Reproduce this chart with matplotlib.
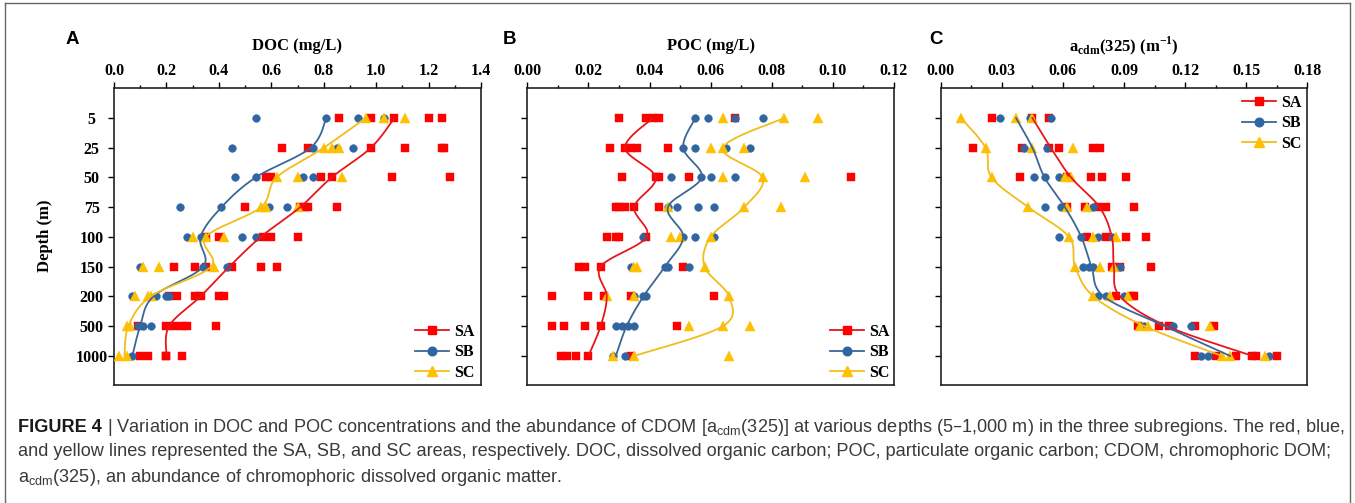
import numpy as np
import matplotlib
matplotlib.use('Agg')
import matplotlib.pyplot as plt
from matplotlib.lines import Line2D
from matplotlib.ticker import MultipleLocator
from matplotlib import font_manager

# ---------------- data ----------------
depths = ['5', '25', '50', '75', '100', '150', '200', '500', '1000']
regions = ['SA', 'SB', 'SC']

doc_sa = [[0.86, 0.98, 1.07, 1.20, 1.25], [0.64, 0.74, 0.98, 1.11, 1.25, 1.26],
          [0.58, 0.60, 0.79, 0.83, 1.06, 1.28], [0.50, 0.71, 0.73, 0.74, 0.85],
          [0.35, 0.40, 0.57, 0.60, 0.70], [0.23, 0.31, 0.35, 0.45, 0.56, 0.62],
          [0.21, 0.24, 0.31, 0.33, 0.40, 0.42], [0.09, 0.20, 0.23, 0.26, 0.28, 0.39],
          [0.10, 0.13, 0.20, 0.20, 0.26]]
doc_sa_line = [1.07, 0.98, 0.83, 0.71, 0.56, 0.44, 0.33, 0.21, 0.20]
doc_sb = [[0.54, 0.81, 0.93, 1.03], [0.45, 0.76, 0.85, 0.91], [0.46, 0.54, 0.72, 0.76],
          [0.25, 0.41, 0.59, 0.66], [0.28, 0.33, 0.49, 0.54], [0.10, 0.34, 0.43],
          [0.07, 0.16, 0.20, 0.21], [0.09, 0.11, 0.14], [0.07]]
doc_sb_line = [0.81, 0.75, 0.54, 0.41, 0.33, 0.34, 0.15, 0.10, 0.07]
doc_sc = [[0.96, 1.03, 1.11], [0.80, 0.83, 0.86], [0.62, 0.70, 0.87], [0.56, 0.58, 0.70],
          [0.30, 0.35, 0.42], [0.11, 0.17, 0.38], [0.08, 0.13, 0.14], [0.05, 0.06],
          [0.02, 0.05]]
doc_sc_line = [0.96, 0.80, 0.62, 0.56, 0.35, 0.37, 0.14, 0.055, 0.04]

poc_sa = [[0.030, 0.039, 0.041, 0.043, 0.068], [0.027, 0.032, 0.034, 0.036, 0.046],
          [0.031, 0.042, 0.043, 0.053, 0.106], [0.029, 0.030, 0.032, 0.035, 0.043],
          [0.026, 0.029, 0.030, 0.039], [0.017, 0.019, 0.024, 0.051],
          [0.008, 0.020, 0.025, 0.034, 0.061], [0.008, 0.012, 0.019, 0.024, 0.049],
          [0.011, 0.013, 0.016, 0.020, 0.034]]
poc_sa_line = [0.041, 0.032, 0.042, 0.035, 0.039, 0.024, 0.026, 0.024, 0.020]
poc_sb = [[0.055, 0.059, 0.068, 0.077], [0.051, 0.055, 0.065, 0.073],
          [0.047, 0.057, 0.060, 0.068], [0.046, 0.049, 0.056, 0.061],
          [0.038, 0.051, 0.055, 0.061], [0.034, 0.045, 0.046, 0.053],
          [0.035, 0.038, 0.039], [0.029, 0.031, 0.033, 0.035], [0.028, 0.032]]
poc_sb_line = [0.055, 0.051, 0.057, 0.046, 0.051, 0.045, 0.038, 0.0325, 0.029]
poc_sc = [[0.064, 0.084, 0.095], [0.060, 0.064, 0.071], [0.064, 0.077, 0.091],
          [0.046, 0.071, 0.083], [0.047, 0.050, 0.060], [0.035, 0.036, 0.058],
          [0.026, 0.035, 0.066], [0.053, 0.064, 0.073], [0.028, 0.035, 0.066]]
poc_sc_line = [0.084, 0.064, 0.077, 0.071, 0.060, 0.058, 0.066, 0.064, 0.035]

cdm_sa = [[0.025, 0.045, 0.053], [0.016, 0.040, 0.053, 0.058, 0.075, 0.078],
          [0.039, 0.062, 0.074, 0.079, 0.091], [0.062, 0.071, 0.077, 0.081, 0.095],
          [0.072, 0.081, 0.091, 0.101], [0.084, 0.088, 0.103], [0.086, 0.094, 0.095],
          [0.097, 0.107, 0.112, 0.125, 0.134], [0.125, 0.135, 0.145, 0.153, 0.155, 0.165]]
cdm_sa_line = [0.045, 0.054, 0.064, 0.078, 0.084, 0.085, 0.088, 0.111, 0.153]
cdm_sb = [[0.029, 0.044, 0.054], [0.041, 0.052], [0.046, 0.051, 0.058],
          [0.051, 0.059, 0.075], [0.058, 0.069, 0.077, 0.084], [0.070, 0.073, 0.075, 0.088],
          [0.077, 0.081, 0.090], [0.100, 0.114, 0.123], [0.128, 0.131, 0.161]]
cdm_sb_line = [0.037, 0.045, 0.051, 0.061, 0.069, 0.074, 0.080, 0.110, 0.142]
cdm_sc = [[0.010, 0.037, 0.045], [0.022, 0.045, 0.065], [0.025, 0.061, 0.064],
          [0.043, 0.062, 0.072], [0.063, 0.075, 0.086], [0.066, 0.078, 0.085],
          [0.075, 0.083, 0.092], [0.098, 0.102, 0.132], [0.138, 0.142, 0.159]]
cdm_sc_line = [0.010, 0.022, 0.025, 0.043, 0.063, 0.066, 0.075, 0.100, 0.138]

panel_letters = ['A', 'B', 'C']
x_titles = ['DOC (mg/L)', 'POC (mg/L)',
            r'a$_{\mathregular{cdm}}$(325) (m$^{\mathregular{-1}}$)']
x_limits = [(0, 1.4), (0, 0.12), (0, 0.18)]
x_major = [0.2, 0.02, 0.03]
x_fmt = ['{:.1f}', '{:.2f}', '{:.2f}']

caption_head = 'FIGURE 4'
caption_lines = [
    r' | Variation in DOC and POC concentrations and the abundance of CDOM '
    r'[a$_{\mathregular{cdm}}$(325)] at various depths (5–1,000 m) in the three subregions. The red, blue,',
    'and yellow lines represented the SA, SB, and SC areas, respectively. DOC, dissolved organic carbon; '
    'POC, particulate organic carbon; CDOM, chromophoric DOM;',
    r'a$_{\mathregular{cdm}}$(325), an abundance of chromophoric dissolved organic matter.',
]

# ---------------- style ----------------
marker_col = {'SA': '#FF0000', 'SB': '#2F65A0', 'SC': '#FFC000'}
line_col = {'SA': '#E8161B', 'SB': '#3A6796', 'SC': '#F2BD1A'}
markers = {'SA': 's', 'SB': 'o', 'SC': '^'}
msize = {'SA': 5.2, 'SB': 5.6, 'SC': 6.6}
serif = 'Liberation Serif'
avail = {f.name for f in font_manager.fontManager.ttflist}
cap_font = 'Liberation Sans Narrow' if 'Liberation Sans Narrow' in avail else 'Liberation Sans'

W, H = 1355, 503
fig = plt.figure(figsize=(W / 100, H / 100), dpi=100)


def px_axes(left, top, right, bottom):
    return fig.add_axes([left / W, 1 - bottom / H, (right - left) / W, (bottom - top) / H])


def smooth(xs, ys, n=24):
    pts = np.column_stack([xs, ys]).astype(float)
    m = len(pts)
    out = [pts[0]]
    t = np.linspace(0, 1, n)[1:, None]
    for i in range(m - 1):
        p0 = pts[i - 1] if i > 0 else pts[i]
        p1, p2 = pts[i], pts[i + 1]
        p3 = pts[i + 2] if i + 2 < m else pts[i + 1]
        c1 = p1 + (p2 - p0) / 6.0
        c2 = p2 - (p3 - p1) / 6.0
        seg = (1 - t) ** 3 * p1 + 3 * (1 - t) ** 2 * t * c1 + 3 * (1 - t) * t ** 2 * c2 + t ** 3 * p2
        out.extend(seg)
    out = np.array(out)
    return out[:, 0], out[:, 1]


panels = [
    {'SA': (doc_sa, doc_sa_line), 'SB': (doc_sb, doc_sb_line), 'SC': (doc_sc, doc_sc_line)},
    {'SA': (poc_sa, poc_sa_line), 'SB': (poc_sb, poc_sb_line), 'SC': (poc_sc, poc_sc_line)},
    {'SA': (cdm_sa, cdm_sa_line), 'SB': (cdm_sb, cdm_sb_line), 'SC': (cdm_sc, cdm_sc_line)},
]
axes_px = [(114, 88.3, 481.0, 385), (527.3, 88.3, 894.0, 385), (940.7, 88.3, 1307.4, 385)]
letter_px = [(72, 39), (509, 39), (936, 39)]
legend_px = [(415, 324), (830, 324), (1242, 95)]

ypos = np.arange(len(depths))
for k in range(3):
    ax = px_axes(*axes_px[k])
    data = panels[k]
    for r in regions:
        pts, line = data[r]
        xs = [v for row in pts for v in row]
        ys = [i for i, row in enumerate(pts) for _ in row]
        ax.plot(xs, ys, linestyle='none', marker=markers[r], markersize=msize[r],
                markerfacecolor=marker_col[r], markeredgecolor=marker_col[r],
                markeredgewidth=0.3, zorder=3)
    for r in regions:
        pts, line = data[r]
        sx, sy = smooth(line, ypos)
        ax.plot(sx, sy, color=line_col[r], lw=1.3, zorder=4)

    ax.set_xlim(*x_limits[k])
    ax.set_ylim(8.98, -1.0)
    ax.xaxis.tick_top()
    ax.xaxis.set_minor_locator(MultipleLocator(x_major[k] / 2))
    ticks = np.round(np.arange(0, x_limits[k][1] + 1e-9, x_major[k]), 4)
    ax.set_xticks(ticks)
    ax.set_xticklabels([x_fmt[k].format(v) for v in ticks], fontfamily=serif,
                       fontweight='bold', fontsize=11.5)
    ax.tick_params(axis='x', which='major', direction='out', length=4, width=1.0,
                   pad=2.5, top=True, bottom=False, labeltop=True, labelbottom=False)
    ax.tick_params(axis='x', which='minor', direction='out', length=2.5, width=1.0,
                   top=True, bottom=False)
    ax.set_yticks(ypos)
    ax.tick_params(axis='y', which='major', direction='out', length=4, width=1.0, pad=12)
    if k == 0:
        ax.set_yticklabels(depths, fontfamily=serif, fontweight='bold', fontsize=11.5)
        for lab in ax.get_yticklabels():
            lab.set_horizontalalignment('center')
    else:
        ax.set_yticklabels([])
    for s in ax.spines.values():
        s.set_linewidth(1.2)
        s.set_color('#222222')

    handles = [Line2D([], [], color=line_col[r], lw=1.3, marker=markers[r],
                      markersize=msize[r] + 0.6, markerfacecolor=marker_col[r],
                      markeredgecolor=marker_col[r]) for r in regions]
    lx, ly = legend_px[k]
    fig.legend(handles, regions, loc='upper left', bbox_to_anchor=(lx / W, 1 - ly / H),
               frameon=False, borderpad=0, borderaxespad=0, handlelength=2.1,
               handletextpad=0.35, labelspacing=0.28,
               prop={'family': serif, 'weight': 'bold', 'size': 11.5})

    cx = (axes_px[k][0] + axes_px[k][2]) / 2
    fig.text(cx / W, 1 - 46 / H, x_titles[k], ha='center', va='center',
             fontfamily=serif, fontweight='bold', fontsize=12)
    lxp, lyp = letter_px[k]
    fig.text(lxp / W, 1 - lyp / H, panel_letters[k], ha='center', va='center',
             fontfamily='Liberation Sans', fontweight='bold', fontsize=13.5)

fig.text(45 / W, 1 - 236 / H, 'Depth (m)', rotation=90, ha='center', va='center',
         fontfamily=serif, fontweight='bold', fontsize=12)

# frame around figure
for (x0, y0, x1, y1) in [(5, 3, 1350, 3), (5, 3, 5, 503), (1350, 3, 1350, 503)]:
    fig.add_artist(Line2D([x0 / W, x1 / W], [1 - y0 / H, 1 - y1 / H], color='#666666',
                          lw=1.0, transform=fig.transFigure))

# caption
renderer = fig.canvas.get_renderer()
fs = 10.5
line_y = [428, 452, 477]
head = fig.text(18 / W, 1 - line_y[0] / H, caption_head, ha='left', va='center',
                fontfamily=cap_font, fontweight='bold', fontsize=fs, color='#1a1a1a')
rest = fig.text(0, 1 - line_y[0] / H, caption_lines[0], ha='left', va='center',
                fontfamily=cap_font, fontsize=fs, color='#3a3a3a')
for _ in range(3):
    bb = head.get_window_extent(renderer)
    rest.set_x(bb.x1 / W)
    bb2 = rest.get_window_extent(renderer)
    total = bb2.x1 - bb.x0
    fs = fs * (1322.0 / total)
    head.set_fontsize(fs)
    rest.set_fontsize(fs)
bb = head.get_window_extent(renderer)
rest.set_x(bb.x1 / W)
for i in (1, 2):
    fig.text(18 / W, 1 - line_y[i] / H, caption_lines[i], ha='left', va='center',
             fontfamily=cap_font, fontsize=fs, color='#3a3a3a')

fig.savefig('out.png', dpi=100)
